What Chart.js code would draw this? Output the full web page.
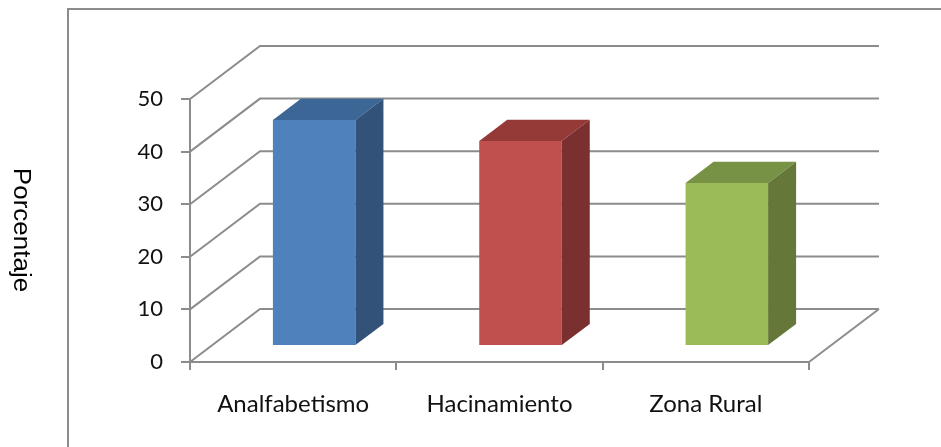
<!DOCTYPE html>
<html lang="es">
<head>
<meta charset="utf-8">
<title>Porcentaje por indicador</title>
<script src="https://cdn.jsdelivr.net/npm/chart.js@4"></script>
<style>
  html, body { margin: 0; padding: 0; background: #fff; }
  #wrap { width: 941px; height: 447px; position: relative; }
</style>
</head>
<body>
<div id="wrap"><canvas id="grafico"></canvas></div>
<script>
const categorias = ["Analfabetismo", "Hacinamiento", "Zona Rural"];
const porcentajes = [43, 39, 31];
const marcasY = [0, 10, 20, 30, 40, 50];
const coloresFrente = ["#4f81bd", "#c0504d", "#9bbb59"];
const coloresTapa = ["#3c6696", "#953a37", "#779145"];
const coloresLado = ["#32527a", "#7a302e", "#65783a"];

// profundidad de la caja 3D en px y tramo que ocupan las barras dentro de ella
const FONDO = { x: 70, y: -53 };
const BARRA_INI = 0.3, BARRA_FIN = 0.7;
const GRIS = "#8c8c8c";
const TEXTO = "#111";

const caja3d = {
  id: "caja3d",
  beforeDraw(chart) {
    const ctx = chart.ctx;
    // marco del área del gráfico
    ctx.save();
    ctx.strokeStyle = GRIS;
    ctx.lineWidth = 2;
    ctx.beginPath();
    ctx.moveTo(68, chart.height + 5);
    ctx.lineTo(68, 9);
    ctx.lineTo(chart.width + 5, 9);
    ctx.stroke();
    ctx.restore();
  },
  beforeDatasetsDraw(chart) {
    const { ctx, chartArea: a, scales: { y } } = chart;
    ctx.save();
    ctx.strokeStyle = GRIS;
    ctx.lineWidth = 2;
    ctx.beginPath();
    // pared izquierda y pared del fondo
    marcasY.forEach(v => {
      const py = y.getPixelForValue(v);
      ctx.moveTo(a.left, py);
      ctx.lineTo(a.left + FONDO.x, py + FONDO.y);
      ctx.lineTo(a.right + FONDO.x, py + FONDO.y);
    });
    // borde derecho del piso
    const p0 = y.getPixelForValue(0);
    ctx.moveTo(a.right, p0);
    ctx.lineTo(a.right + FONDO.x, p0 + FONDO.y);
    ctx.stroke();
    ctx.restore();
    // las barras se dibujan metidas dentro de la caja
    ctx.save();
    ctx.translate(FONDO.x * BARRA_INI, FONDO.y * BARRA_INI);
  },
  afterDatasetsDraw(chart) {
    const ctx = chart.ctx;
    const dx = FONDO.x * (BARRA_FIN - BARRA_INI);
    const dy = FONDO.y * (BARRA_FIN - BARRA_INI);
    chart.getDatasetMeta(0).data.forEach((bar, i) => {
      const { x, y, base, width } = bar.getProps(["x", "y", "base", "width"], true);
      const l = x - width / 2, r = x + width / 2;
      ctx.fillStyle = coloresTapa[i];
      ctx.beginPath();
      ctx.moveTo(l, y); ctx.lineTo(l + dx, y + dy); ctx.lineTo(r + dx, y + dy); ctx.lineTo(r, y);
      ctx.closePath(); ctx.fill();
      ctx.fillStyle = coloresLado[i];
      ctx.beginPath();
      ctx.moveTo(r, y); ctx.lineTo(r + dx, y + dy); ctx.lineTo(r + dx, base + dy); ctx.lineTo(r, base);
      ctx.closePath(); ctx.fill();
    });
    ctx.restore();
  },
  afterDraw(chart) {
    // título del eje Y, leído de arriba hacia abajo
    const ctx = chart.ctx;
    ctx.save();
    ctx.translate(14, 230);
    ctx.rotate(Math.PI / 2);
    ctx.scale(1.13, 1);
    ctx.font = '23px "Liberation Sans", Arial, sans-serif';
    ctx.fillStyle = "#000";
    ctx.textAlign = "center";
    ctx.textBaseline = "alphabetic";
    ctx.fillText("Porcentaje", 0, 0);
    ctx.restore();
  }
};

new Chart(document.getElementById("grafico"), {
  type: "bar",
  data: {
    labels: categorias,
    datasets: [{
      data: porcentajes,
      backgroundColor: coloresFrente,
      borderWidth: 0,
      barPercentage: 0.4,
      categoryPercentage: 1.0
    }]
  },
  options: {
    responsive: true,
    maintainAspectRatio: false,
    animation: false,
    layout: { padding: { left: 0, top: 99, right: 132, bottom: 0 } },
    plugins: { legend: { display: false }, tooltip: { enabled: false } },
    scales: {
      x: {
        ticks: { color: TEXTO, padding: 20, font: { family: "Lato", size: 24 } },
        grid: { drawOnChartArea: false, offset: true, tickLength: 8, color: GRIS, lineWidth: 2 },
        border: { color: GRIS, width: 2 },
        afterFit(s) { s.height = 85; }
      },
      y: {
        min: 0,
        max: 50,
        afterBuildTicks(s) { s.ticks = marcasY.map(v => ({ value: v })); },
        ticks: { color: TEXTO, padding: 18, font: { family: "Lato", size: 22 } },
        grid: { drawOnChartArea: false, tickLength: 9, color: GRIS, lineWidth: 2 },
        border: { color: GRIS, width: 2 },
        afterFit(s) { s.width = 190; }
      }
    }
  },
  plugins: [caja3d]
});
</script>
</body>
</html>
